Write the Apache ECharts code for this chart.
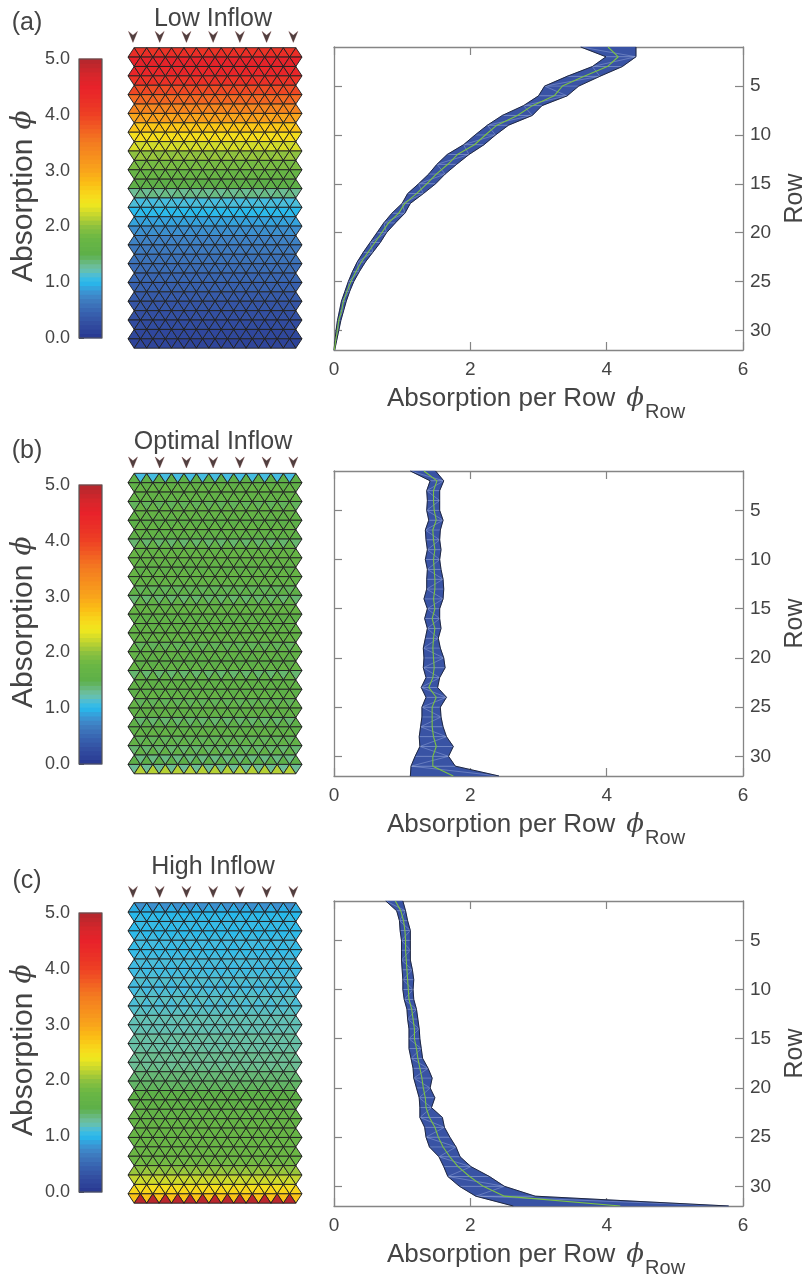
<!DOCTYPE html>
<html><head><meta charset="utf-8">
<script src="https://cdn.jsdelivr.net/npm/echarts@6/dist/echarts.min.js"></script>
<style>html,body{margin:0;padding:0;background:#fff}#c{width:805px;height:1284px}</style>
</head><body><div id="c"></div>
<script>
// ---------------- DATA ----------------
const rowNums = [1,2,3,4,5,6,7,8,9,10,11,12,13,14,15,16,17,18,19,20,21,22,23,24,25,26,27,28,29,30,31,32];
const xTickVals = [0,2,4,6];
const rowTickVals = [5,10,15,20,25,30];
const cbTickVals = [0,1,2,3,4,5];
const panelLabels = ['(a)','(b)','(c)'];
const panelTitles = ['Low Inflow','Optimal Inflow','High Inflow'];
const arrowX = [0.4,2.55,4.7,6.85,9.0,11.15,13.3];

// (a) Low inflow: per-row absorption band (min / max) and mean
const aMin  = [3.62,3.99,3.79,3.42,3.09,3.00,2.78,2.47,2.25,2.07,1.90,1.66,1.51,1.39,1.24,1.08,1.00,0.85,0.73,0.63,0.53,0.43,0.34,0.27,0.21,0.16,0.11,0.08,0.05,0.03,0.015,0.0];
const aMax  = [4.43,4.43,4.23,3.90,3.59,3.42,3.05,2.91,2.56,2.37,2.20,1.98,1.80,1.63,1.49,1.31,1.12,1.04,0.90,0.77,0.68,0.57,0.46,0.37,0.29,0.23,0.18,0.14,0.10,0.07,0.04,0.01];
const aMean = [4.02,4.17,4.01,3.67,3.35,3.23,2.91,2.69,2.39,2.22,2.06,1.81,1.67,1.50,1.36,1.21,1.04,0.95,0.80,0.70,0.60,0.50,0.40,0.32,0.25,0.19,0.14,0.11,0.07,0.05,0.025,0.005];
// (b) Optimal inflow
const bMin  = [1.12,1.41,1.36,1.37,1.36,1.39,1.34,1.35,1.37,1.34,1.37,1.36,1.36,1.32,1.37,1.33,1.37,1.34,1.31,1.32,1.31,1.35,1.28,1.35,1.29,1.29,1.27,1.25,1.26,1.19,1.13,1.12];
const bMax  = [1.49,1.61,1.55,1.55,1.55,1.60,1.56,1.55,1.57,1.55,1.57,1.60,1.61,1.60,1.55,1.55,1.57,1.53,1.56,1.61,1.63,1.55,1.52,1.65,1.56,1.57,1.60,1.65,1.75,1.68,1.78,2.42];
const bMean = [1.32,1.51,1.46,1.46,1.47,1.50,1.45,1.46,1.48,1.46,1.47,1.48,1.48,1.46,1.48,1.44,1.48,1.46,1.45,1.46,1.47,1.45,1.39,1.50,1.44,1.44,1.44,1.46,1.50,1.45,1.45,1.75];
// (c) High inflow
const cMin  = [0.76,0.92,0.96,0.97,0.99,0.99,0.99,1.00,1.01,1.01,1.03,1.07,1.08,1.10,1.10,1.10,1.13,1.16,1.17,1.21,1.25,1.26,1.26,1.33,1.35,1.40,1.54,1.61,1.67,1.84,2.08,2.63];
const cMax  = [1.01,1.05,1.08,1.12,1.12,1.12,1.12,1.15,1.17,1.16,1.17,1.21,1.23,1.25,1.26,1.28,1.30,1.38,1.44,1.41,1.48,1.43,1.59,1.62,1.70,1.79,1.85,2.01,2.28,2.50,2.95,5.79];
const cMean = [0.90,0.98,1.02,1.04,1.05,1.05,1.06,1.07,1.08,1.09,1.10,1.14,1.16,1.18,1.18,1.21,1.23,1.26,1.29,1.31,1.34,1.35,1.40,1.48,1.53,1.60,1.70,1.82,1.99,2.19,2.50,4.20];

// Mesh absorption per row (up-pointing / down-pointing triangles), row 1 = top
const aMeshUp   = [4.30,4.55,4.45,4.25,3.95,3.70,3.40,3.10,2.75,2.55,2.30,2.05,1.90,1.75,1.55,1.35,1.12,1.02,0.90,0.80,0.72,0.66,0.60,0.55,0.50,0.45,0.40,0.35,0.30,0.25,0.20,0.15];
const aMeshDown = [4.20,4.50,4.40,4.20,3.90,3.65,3.35,3.00,2.70,2.50,2.25,2.00,1.85,1.70,1.50,1.30,1.10,1.00,0.88,0.78,0.70,0.64,0.58,0.53,0.48,0.43,0.38,0.33,0.28,0.23,0.18,0.13];
const bMeshUp   = [1.55,1.70,1.65,1.70,1.60,1.70,1.55,1.65,1.70,1.60,1.70,1.65,1.55,1.60,1.70,1.60,1.65,1.70,1.60,1.55,1.70,1.65,1.60,1.70,1.65,1.60,1.55,1.65,1.60,1.60,1.50,2.15];
const bMeshDown = [1.10,1.55,1.60,1.45,1.65,1.50,1.60,1.40,1.60,1.65,1.50,1.60,1.45,1.40,1.60,1.50,1.55,1.60,1.45,1.60,1.50,1.40,1.55,1.50,1.45,1.55,1.40,1.50,1.45,1.40,1.35,1.30];
const cMeshUp   = [0.95,1.05,1.02,1.08,1.05,1.10,1.08,1.12,1.10,1.15,1.12,1.18,1.20,1.22,1.25,1.28,1.30,1.35,1.40,1.45,1.55,1.60,1.65,1.70,1.72,1.75,1.80,1.85,2.05,2.25,2.60,4.95];
const cMeshDown = [0.80,1.00,1.05,1.02,1.10,1.05,1.12,1.08,1.15,1.10,1.18,1.15,1.22,1.20,1.28,1.25,1.32,1.30,1.38,1.42,1.50,1.55,1.60,1.65,1.70,1.72,1.75,1.80,1.95,2.20,2.50,2.75];

// ---------------- STYLE ----------------
const FONT = "'Liberation Sans', Arial, Helvetica, sans-serif";
const TXT = '#444444';
const AX = '#858585';
const BAND = '#3953a4';
const cmapStops = [[0,'#293891'],[0.3,'#3451a3'],[0.5,'#3967b2'],[0.7,'#3f7fc2'],[0.85,'#3a98d6'],[1.0,'#27b9ec'],[1.1,'#45bce0'],[1.2,'#62c0b6'],[1.3,'#6cbd95'],[1.5,'#5daf48'],[1.8,'#6bb744'],[2.0,'#8dc13f'],[2.2,'#c3d52f'],[2.4,'#f0e81f'],[2.6,'#f8d51a'],[2.8,'#fbbc15'],[3.0,'#f9a51b'],[3.2,'#f7941d'],[3.5,'#f47c20'],[3.7,'#f26522'],[4.0,'#ee4124'],[4.2,'#eb3326'],[4.5,'#e8222a'],[4.7,'#d8262b'],[5.0,'#b3272d']];
function hx(h){return [parseInt(h.substr(1,2),16),parseInt(h.substr(3,2),16),parseInt(h.substr(5,2),16)];}
function cmap(v){
  v=Math.max(0,Math.min(5,v));
  for(let i=0;i<cmapStops.length-1;i++){
    const [v0,c0]=cmapStops[i],[v1,c1]=cmapStops[i+1];
    if(v<=v1){const t=(v-v0)/(v1-v0);const a=hx(c0),b=hx(c1);
      return 'rgb('+a.map((x,j)=>Math.round(x+(b[j]-x)*t)).join(',')+')';}
  }
  return cmapStops[cmapStops.length-1][1];
}

const panels = [
  {min:aMin,max:aMax,mean:aMean,up:aMeshUp,down:aMeshDown},
  {min:bMin,max:bMax,mean:bMean,up:bMeshUp,down:bMeshDown},
  {min:cMin,max:cMax,mean:cMean,up:cMeshUp,down:cMeshDown}
];
// layout (pixels)
const plotTop=[47,471,901], plotH=[303,305,305];
const meshTop=[47.7,473.3,902.7], meshH=300.5;
const cbTop=[59,485,913], cbH=279;
const titleY=[19,442,867], labelY=[23,451,881];
const rowH = meshH/32;

const measureCtx = document.createElement('canvas').getContext('2d');
function tw(t,font){measureCtx.font=font;return measureCtx.measureText(t).width;}

const grids=[],xAxes=[],yAxes=[],series=[],graphics=[];

panels.forEach((P,p)=>{
  const gi=grids.length, ai=xAxes.length;
  grids.push({left:79,top:cbTop[p],width:23,height:cbH,outerBoundsMode:'none'});
  grids.push({left:128,top:meshTop[p]-3*rowH,width:174,height:35*rowH,outerBoundsMode:'none'});
  grids.push({left:334,top:plotTop[p],width:409,height:plotH[p],outerBoundsMode:'none'});

  xAxes.push({gridIndex:gi,type:'value',min:0,max:1,show:false});
  yAxes.push({gridIndex:gi,type:'value',min:0,max:5,interval:1,position:'left',
    axisLine:{show:false,onZero:false},axisTick:{show:true,inside:true,length:5,lineStyle:{color:'#555',width:1}},
    axisLabel:{show:true,margin:9,fontSize:18,color:TXT,fontFamily:FONT,formatter:v=>v.toFixed(1)},splitLine:{show:false}});

  xAxes.push({gridIndex:gi+1,type:'value',min:0,max:14,show:false});
  yAxes.push({gridIndex:gi+1,type:'value',min:-3,max:32,inverse:true,show:false});

  const axLine={show:true,onZero:false,lineStyle:{color:AX,width:1.3}};
  const axTick={show:true,inside:true,length:8,lineStyle:{color:AX,width:1.2}};
  xAxes.push({gridIndex:gi+2,type:'value',min:0,max:6,interval:2,position:'bottom',axisLine:axLine,axisTick:axTick,
    axisLabel:{show:true,margin:10,fontSize:19,color:TXT,fontFamily:FONT},splitLine:{show:false}});
  xAxes.push({gridIndex:gi+2,type:'value',min:0,max:6,interval:2,position:'top',axisLine:axLine,axisTick:axTick,
    axisLabel:{show:false},splitLine:{show:false}});
  yAxes.push({gridIndex:gi+2,type:'value',min:1,max:32,inverse:true,position:'right',axisLine:axLine,
    axisTick:Object.assign({customValues:rowTickVals},axTick),
    axisLabel:{show:true,customValues:rowTickVals,margin:7,fontSize:19,color:TXT,fontFamily:FONT},splitLine:{show:false}});
  yAxes.push({gridIndex:gi+2,type:'value',min:1,max:32,inverse:true,position:'left',axisLine:axLine,
    axisTick:Object.assign({customValues:rowTickVals},axTick),axisLabel:{show:false},splitLine:{show:false}});

  // colorbar bands
  const nLev=64, step=5/nLev, levels=[];
  for(let i=0;i<nLev;i++) levels.push([i*step,(i+1)*step]);
  series.push({type:'custom',xAxisIndex:ai,yAxisIndex:ai,data:levels,silent:true,animation:false,
    renderItem:(params,api)=>{
      const v0=api.value(0),v1=api.value(1);
      const a=api.coord([0,v1]),b=api.coord([1,v0]);
      return {type:'rect',shape:{x:a[0],y:a[1]-0.4,width:b[0]-a[0],height:b[1]-a[1]+0.8},style:{fill:cmap((v0+v1)/2)}};
    }});
  series.push({type:'custom',xAxisIndex:ai,yAxisIndex:ai,data:[[0,0,1,5]],silent:true,animation:false,z:5,
    renderItem:(params,api)=>{
      const a=api.coord([api.value(0),api.value(3)]),b=api.coord([api.value(2),api.value(1)]);
      return {type:'rect',shape:{x:a[0],y:a[1],width:b[0]-a[0],height:b[1]-a[1]},style:{fill:'none',stroke:'#555',lineWidth:1.2}};
    }});

  // mesh
  const md=[];
  for(let r=1;r<=32;r++){
    const bottomOuter=(r%2===1);
    for(let k=0;k<14;k++) md.push([k,r,bottomOuter?P.up[r-1]:P.down[r-1],0]);
    for(let k=0;k<13;k++) md.push([k,r,bottomOuter?P.down[r-1]:P.up[r-1],1]);
  }
  series.push({type:'custom',xAxisIndex:ai+1,yAxisIndex:ai+1,data:md,silent:true,animation:false,progressive:0,clip:false,
    renderItem:(params,api)=>{
      const k=api.value(0),r=api.value(1),v=api.value(2),t=api.value(3);
      const outerY=(r%2===1)?r:r-1, innerY=(r%2===1)?r-1:r;
      const pts = t===0 ? [[k,outerY],[k+1,outerY],[k+0.5,innerY]] : [[k+0.5,innerY],[k+1.5,innerY],[k+1,outerY]];
      return {type:'polygon',shape:{points:pts.map(q=>api.coord(q))},style:{fill:cmap(v),stroke:'#222222',lineWidth:0.95}};
    }});
  // inflow arrows
  series.push({type:'scatter',xAxisIndex:ai+1,yAxisIndex:ai+1,data:arrowX.map(x=>[x,-1.15]),silent:true,animation:false,clip:false,
    symbol:'path://M0,0L5,3.4L10,0L5,10Z',symbolSize:[9,11],itemStyle:{color:'#241010',borderColor:'#5a2020',borderWidth:0.4}});

  // band quads
  const bd=[];
  for(let i=0;i<31;i++) bd.push([P.min[i],rowNums[i],P.max[i],P.min[i+1],rowNums[i+1],P.max[i+1]]);
  series.push({type:'custom',xAxisIndex:ai+2,yAxisIndex:ai+2,data:bd,silent:true,animation:false,
    renderItem:(params,api)=>{
      const l0=api.coord([api.value(0),api.value(1)]),r0=api.coord([api.value(2),api.value(1)]);
      const l1=api.coord([api.value(3),api.value(4)]),r1=api.coord([api.value(5),api.value(4)]);
      const light={stroke:'rgba(185,200,240,0.5)',lineWidth:0.7};
      const d = params.dataIndex%2===0 ? [l0,r1] : [r0,l1];
      const ch=[{type:'polygon',shape:{points:[l0,r0,r1,l1]},style:{fill:BAND,stroke:BAND,lineWidth:0.4}}];
      if(params.dataIndex>0) ch.push({type:'line',shape:{x1:l0[0],y1:l0[1],x2:r0[0],y2:r0[1]},style:light,z2:2});
      ch.push({type:'line',shape:{x1:d[0][0],y1:d[0][1],x2:d[1][0],y2:d[1][1]},style:light,z2:2});
      return {type:'group',children:ch};
    }});
  const edge={color:'#1f2740',width:1};
  series.push({type:'line',xAxisIndex:ai+2,yAxisIndex:ai+2,data:rowNums.map((r,i)=>[P.min[i],r]),symbol:'none',silent:true,animation:false,lineStyle:edge,z:3});
  series.push({type:'line',xAxisIndex:ai+2,yAxisIndex:ai+2,data:rowNums.map((r,i)=>[P.max[i],r]),symbol:'none',silent:true,animation:false,lineStyle:edge,z:3});
  series.push({type:'line',xAxisIndex:ai+2,yAxisIndex:ai+2,data:rowNums.map((r,i)=>[P.mean[i],r]),symbol:'none',silent:true,animation:false,lineStyle:{color:'#7cc242',width:1.1},z:4});

  // texts
  graphics.push({type:'text',x:27,y:labelY[p],style:{text:panelLabels[p],fontSize:25,fontFamily:FONT,fill:TXT,align:'center',verticalAlign:'middle'}});
  graphics.push({type:'text',x:213,y:titleY[p],style:{text:panelTitles[p],fontSize:25,fontFamily:FONT,fill:TXT,align:'center',verticalAlign:'middle'}});
  const f1='30px '+FONT, wAbs=tw('Absorption',f1);
  graphics.push({type:'group',x:24,y:cbTop[p]+223,rotation:Math.PI/2,children:[
    {type:'text',x:0,y:0,style:{text:'Absorption',font:f1,fill:TXT,align:'left',verticalAlign:'middle'}},
    {type:'text',x:wAbs+9,y:-1,style:{text:'ϕ',font:"italic 28px 'DejaVu Serif', serif",fill:TXT,align:'left',verticalAlign:'middle'}}
  ]});
  graphics.push({type:'text',x:795,y:plotTop[p]+plotH[p]/2,rotation:Math.PI/2,style:{text:'Row',fontSize:25,fontFamily:FONT,fill:TXT,align:'center',verticalAlign:'middle'}});
  const f2='26px '+FONT, wMain=tw('Absorption per Row',f2), wPhi=tw('ϕ',"italic 26px 'DejaVu Serif'");
  const by=plotTop[p]+plotH[p]+49, x0=387;
  graphics.push({type:'text',x:x0,y:by,style:{text:'Absorption per Row',font:f2,fill:TXT,align:'left',verticalAlign:'middle'}});
  graphics.push({type:'text',x:x0+wMain+11,y:by,style:{text:'ϕ',font:"italic 26px 'DejaVu Serif', serif",fill:TXT,align:'left',verticalAlign:'middle'}});
  graphics.push({type:'text',x:x0+wMain+11+wPhi+1,y:by+13,style:{text:'Row',font:'20px '+FONT,fill:TXT,align:'left',verticalAlign:'middle'}});
});

const chart = echarts.init(document.getElementById('c'),null,{renderer:'canvas',width:805,height:1284});
chart.setOption({animation:false,backgroundColor:'#ffffff',grid:grids,xAxis:xAxes,yAxis:yAxes,series:series,graphic:graphics});
</script>
</body></html>
